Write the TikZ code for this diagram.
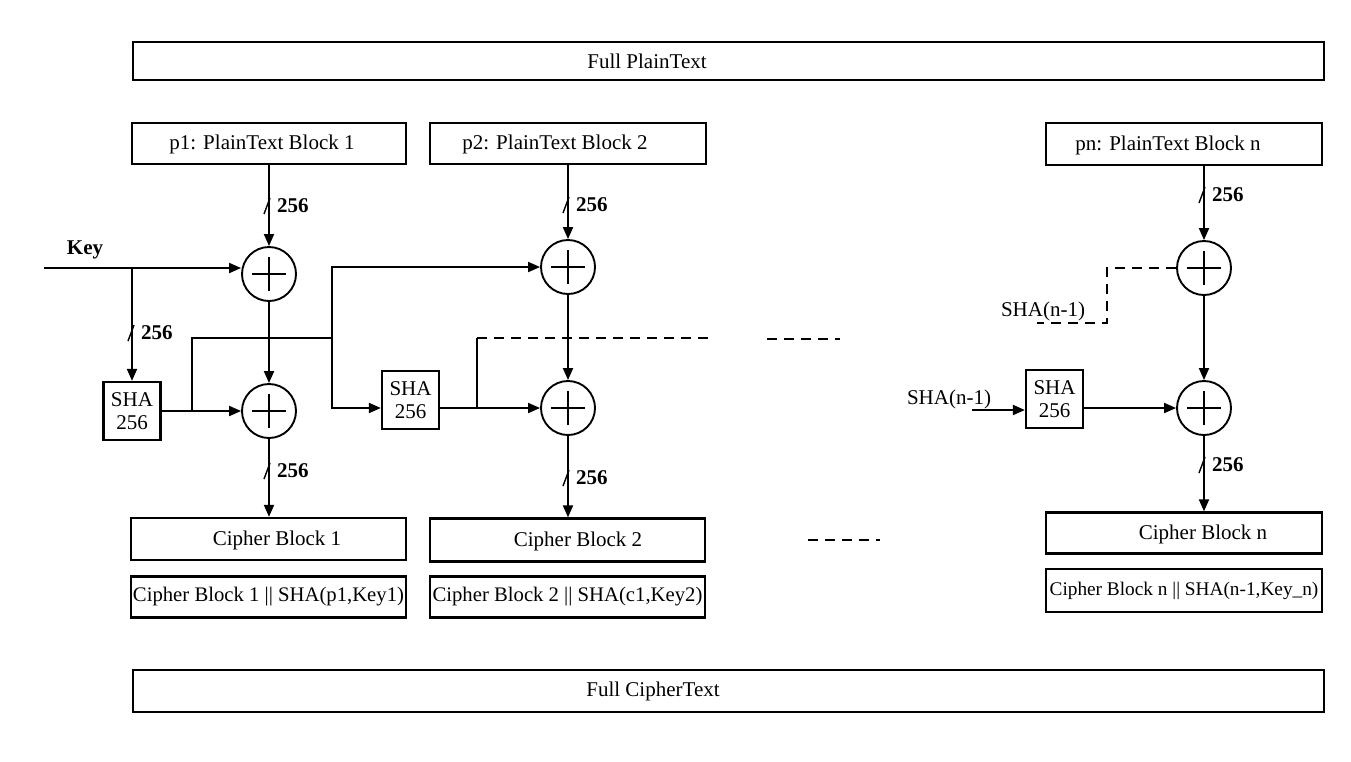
\documentclass[tikz,border=0pt]{standalone}
\usepackage{fontspec}
\setmainfont{Liberation Serif}
\usetikzlibrary{arrows.meta,calc}
\tikzset{
  x=1pt, y=-1pt,
  every node/.style={font=\fontsize{21}{23.5}\selectfont, inner sep=0pt},
  box/.style={draw, line width=2.3pt},
  shabox/.style={draw, line width=2.3pt, minimum width=57pt, minimum height=58pt, align=center},
  xor/.style={draw, circle, line width=1.9pt, minimum size=54pt, inner sep=0pt,
    path picture={\draw[line width=2pt]
      ([xshift=-17pt]path picture bounding box.center) -- ([xshift=17pt]path picture bounding box.center)
      ([yshift=-17pt]path picture bounding box.center) -- ([yshift=17pt]path picture bounding box.center);}},
  wire/.style={line width=1.9pt},
  arr/.style={wire, -{Triangle[length=12pt,width=10pt]}},
  dsh/.style={wire, dash pattern=on 10pt off 7pt},
  bwlbl/.style={font=\bfseries\fontsize{21}{23.5}\selectfont, anchor=west},
}
\newcommand\buswidth[2]{%
  \draw[line width=1.4pt] ($(#1)+(-5,8)$) -- ($(#1)+(1,-8)$);
  \node[bwlbl] (#2) at ($(#1)+(8,0)$) {256};}
\begin{document}
\begin{tikzpicture}
\useasboundingbox (0,0) rectangle (1351,761);

% top / bottom full boxes
\node[box, minimum width=1191pt, minimum height=38pt] (fullp) at (728.5,61) {};
\node (fullpt) at (647,61) {Full PlainText};
\node[box, minimum width=1191pt, minimum height=42pt] (fullc) at (728.5,691) {};
\node (fullct) at (653,691) {Full CipherText};

% plaintext blocks
\node[box, minimum width=274pt, minimum height=41pt] (p1) at (269,143.5) {};
\node (p1t) at (262,144) {p1: PlainText Block 1};
\node[box, minimum width=276pt, minimum height=41pt] (p2) at (568,143.5) {};
\node (p2t) at (555,144) {p2: PlainText Block 2};
\node[box, minimum width=276pt, minimum height=42pt] (pn) at (1184,144) {};
\node (pnt) at (1168,145) {pn: PlainText Block n};

% xors
\node[xor] (xor1) at (269,274) {};
\node[xor] (xor2) at (269,411) {};
\node[xor] (xor3) at (568,267) {};
\node[xor] (xor4) at (568,408) {};
\node[xor] (xor5) at (1204,268) {};
\node[xor] (xor6) at (1204,408) {};

% sha boxes
\node[shabox] (sha1) at (132,411) {SHA\\256};
\node[shabox] (sha2) at (410.5,400) {SHA\\256};
\node[shabox] (sha3) at (1054.5,399) {SHA\\256};

% cipher blocks
\node[box, minimum width=275pt, minimum height=42pt] (c1) at (268.5,539) {};
\node (c1t) at (277,540) {Cipher Block 1};
\node[box, minimum width=275pt, minimum height=43pt] (c2) at (567.5,540) {};
\node (c2t) at (578,541) {Cipher Block 2};
\node[box, minimum width=276pt, minimum height=41pt] (cn) at (1184,533) {};
\node (cnt) at (1203,534) {Cipher Block n};

\node[box, minimum width=275pt, minimum height=41pt, font=\fontsize{20.7}{23}\selectfont] (cs1) at (268.5,597) {Cipher Block 1 || SHA(p1,Key1)};
\node[box, minimum width=275pt, minimum height=41pt, font=\fontsize{20.7}{23}\selectfont] (cs2) at (567.5,597) {Cipher Block 2 || SHA(c1,Key2)};
\node[box, minimum width=276pt, minimum height=43pt, font=\fontsize{19.3}{22}\selectfont] (csn) at (1184,590.5) {Cipher Block n || SHA(n-1,Key\_n)};

% key
\node[font=\bfseries\fontsize{21}{23.5}\selectfont] (key) at (85,250) {Key};
\coordinate (keyin) at (44,268);
\draw[arr] (keyin) -- (xor1.west |- keyin);
\coordinate (kb) at (sha1.north |- keyin);
\draw[arr] (kb) -- (sha1.north);
\coordinate (bk) at (133,333);
\buswidth{bk}{bwk}

% column 1
\draw[arr] (p1.south) -- (xor1.north);
\coordinate (b1) at (269,206);
\buswidth{b1}{bw1}
\draw[arr] (xor1.south) -- (xor2.north);
\draw[arr] (sha1.east) -- (xor2.west);
\draw[arr] (xor2.south) -- (xor2.south |- c1.north);
\coordinate (b2) at (269,471);
\buswidth{b2}{bw2}

\coordinate (j1) at (192,411);
\coordinate (j2) at (192,338);
\coordinate (j3) at (332,338);
\draw[wire] (j1) -- (j2) -- (j3);
\draw[arr] (j3) |- (xor3.west);
\draw[arr] (j3) |- (sha2.west |- xor4);

% column 2
\draw[arr] (p2.south) -- (xor3.north);
\coordinate (b3) at (568,205);
\buswidth{b3}{bw3}
\draw[arr] (xor3.south) -- (xor4.north);
\draw[arr] (sha2.east |- xor4) -- (xor4.west);
\draw[arr] (xor4.south) -- (xor4.south |- c2.north);
\coordinate (b4) at (568,478);
\buswidth{b4}{bw4}
\coordinate (j6) at (477,408);
\coordinate (j7) at (477,338);
\coordinate (j8) at (708,338);
\draw[wire] (j6) -- (j7);
\draw[dsh] (j7) -- (j8);

% ellipsis dashes
\coordinate (e1) at (767,339);
\coordinate (e2) at (840,339);
\draw[dsh] (e1) -- (e2);
\coordinate (e3) at (808,540);
\coordinate (e4) at (880,540);
\draw[dsh] (e3) -- (e4);

% column n
\draw[arr] (pn.south -| xor5) -- (xor5.north);
\coordinate (b5) at (1204,195);
\buswidth{b5}{bw5}
\draw[arr] (xor5.south) -- (xor6.north);
\draw[arr] (sha3.east |- xor6) -- (xor6.west);
\draw[arr] (xor6.south) -- (xor6.south |- cn.north);
\coordinate (b6) at (1204,465);
\buswidth{b6}{bw6}

\coordinate (d1) at (1107,323);
\coordinate (d2) at (1037,323);
\draw[dsh] (xor5.west) -| (d1) -- (d2);
\node (shan1) at (1043,311) {SHA(n-1)};

\node (shan2) at (949,399) {SHA(n-1)};
\coordinate (s3in) at (972,410);
\draw[arr] (s3in) -- (sha3.west |- s3in);
\end{tikzpicture}
\end{document}
